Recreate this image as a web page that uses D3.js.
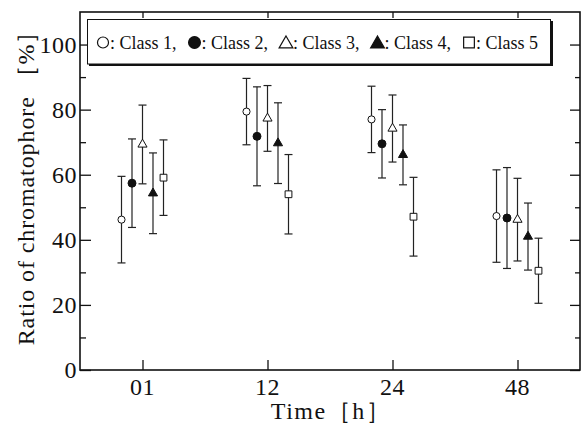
<!DOCTYPE html>
<html>
<head>
<meta charset="utf-8">
<script src="https://cdn.jsdelivr.net/npm/d3@7"></script>
<style>
  html, body { margin: 0; padding: 0; background: #fff; }
  svg { display: block; }
</style>
</head>
<body>
<svg id="chart" width="581" height="438"></svg>
<script>
// Sampling times (h) and class names
const times = ["01", "12", "24", "48"];
const classes = ["Class 1", "Class 2", "Class 3", "Class 4", "Class 5"];

// Mean ratio of chromatophore (%) per class at each time
const class1 = [46.2, 79.4, 77.0, 47.3];
const class2 = [57.4, 71.8, 69.5, 46.7];
const class3 = [69.3, 77.3, 74.2, 46.2];
const class4 = [54.3, 69.7, 66.1, 41.0];
const class5 = [59.1, 54.0, 47.1, 30.5];

// Standard deviations (error bar half-lengths)
const err1 = [13.3, 10.2, 10.2, 14.2];
const err2 = [13.6, 15.2, 10.5, 15.5];
const err3 = [12.1, 10.1, 10.3, 12.7];
const err4 = [12.4, 12.4, 9.2, 10.3];
const err5 = [11.6, 12.2, 12.1, 10.0];

const yMajorTicks = [0, 20, 40, 60, 80, 100];
const yMinorTicks = [10, 30, 50, 70, 90];

const means = [class1, class2, class3, class4, class5];
const errs = [err1, err2, err3, err4, err5];

const FONT = "'Liberation Serif', Tinos, 'Times New Roman', 'DejaVu Serif', serif";

// marker style per class: shape + filled
const markerShape = [d3.symbolCircle, d3.symbolCircle, d3.symbolTriangle, d3.symbolTriangle, d3.symbolSquare];
const markerFilled = [false, true, false, true, false];
const markerSize = [40, 50, 36, 36, 46];
const legendSize = [95, 110, 82, 82, 115];

const svg = d3.select("#chart");
const L = 80, R = 580, T = 12, B = 370;

const x = d3.scalePoint().domain(times).range([L, R]).padding(0.5);
const dx = d3.scalePoint().domain(classes).range([-21, 21]);
const y = d3.scaleLinear().domain([0, 110]).range([B, T]);

const g = svg.append("g");

// frame
g.append("rect")
  .attr("x", L).attr("y", T).attr("width", R - L).attr("height", B - T)
  .attr("fill", "none").attr("stroke", "#111").attr("stroke-width", 1.6);

// ticks on all four sides, pointing inward
const yLeft = d3.axisRight(y).tickValues(yMajorTicks).tickSize(11).tickFormat("");
const yLeftMinor = d3.axisRight(y).tickValues(yMinorTicks).tickSize(6).tickFormat("");
const yRight = d3.axisLeft(y).tickValues(yMajorTicks).tickSize(10).tickFormat("");
const yRightMinor = d3.axisLeft(y).tickValues(yMinorTicks).tickSize(5).tickFormat("");
const xBottom = d3.axisTop(x).tickSize(10).tickFormat("");
const xTop = d3.axisBottom(x).tickSize(6).tickFormat("");

function styleAxis(sel) {
  sel.select(".domain").remove();
  sel.selectAll("line").attr("stroke", "#111").attr("stroke-width", 1.3);
}
g.append("g").attr("transform", `translate(${L},0)`).call(yLeft).call(styleAxis);
g.append("g").attr("transform", `translate(${L},0)`).call(yLeftMinor).call(styleAxis);
g.append("g").attr("transform", `translate(${R},0)`).call(yRight).call(styleAxis);
g.append("g").attr("transform", `translate(${R},0)`).call(yRightMinor).call(styleAxis);
g.append("g").attr("transform", `translate(0,${B})`).call(xBottom).call(styleAxis);
g.append("g").attr("transform", `translate(0,${T})`).call(xTop).call(styleAxis);

// tick labels
g.selectAll(".ylab").data(yMajorTicks).join("text")
  .attr("font-family", FONT).attr("fill", "#111")
  .attr("x", L - 3).attr("y", d => y(d)).attr("dy", "0.34em")
  .attr("text-anchor", "end").attr("font-size", 24).attr("letter-spacing", 0.5).text(d => d);

g.selectAll(".xlab").data(times).join("text")
  .attr("font-family", FONT).attr("fill", "#111")
  .attr("x", d => x(d)).attr("y", 395)
  .attr("text-anchor", "middle").attr("font-size", 24).attr("letter-spacing", 0.5).text(d => d);

// axis titles
svg.append("text")
  .attr("font-family", FONT).attr("fill", "#111")
  .attr("transform", `translate(34,182) rotate(-90)`)
  .attr("text-anchor", "middle").attr("font-size", 24).attr("letter-spacing", 0.9)
  .text("Ratio of chromatophore ［%］");
svg.append("text")
  .attr("font-family", FONT).attr("fill", "#111")
  .attr("x", 331).attr("y", 419)
  .attr("text-anchor", "middle").attr("font-size", 24).attr("letter-spacing", 1.5)
  .text("Time［h］");

// error bars and markers
const points = [];
classes.forEach((c, ci) => {
  times.forEach((t, ti) => {
    points.push({ c, ci, t, m: means[ci][ti], e: errs[ci][ti] });
  });
});

const pg = g.append("g");
const bars = pg.selectAll(".bar").data(points).join("g");
bars.append("line")
  .attr("x1", d => x(d.t) + dx(d.c)).attr("x2", d => x(d.t) + dx(d.c))
  .attr("y1", d => y(d.m + d.e)).attr("y2", d => y(d.m - d.e))
  .attr("stroke", "#222").attr("stroke-width", 1.2);
[1, -1].forEach(s => {
  bars.append("line")
    .attr("x1", d => x(d.t) + dx(d.c) - 4).attr("x2", d => x(d.t) + dx(d.c) + 4)
    .attr("y1", d => y(d.m + s * d.e)).attr("y2", d => y(d.m + s * d.e))
    .attr("stroke", "#222").attr("stroke-width", 1.2);
});

pg.selectAll(".mk").data(points).join("path")
  .attr("transform", d => `translate(${x(d.t) + dx(d.c)},${y(d.m)})`)
  .attr("d", d => d3.symbol().type(markerShape[d.ci]).size(markerSize[d.ci])())
  .attr("fill", d => markerFilled[d.ci] ? "#111" : "#fff")
  .attr("stroke", "#111").attr("stroke-width", 1);

// legend
const lg = svg.append("g");
lg.append("rect").attr("x", 89).attr("y", 21).attr("width", 464).attr("height", 45).attr("fill", "#111");
lg.append("rect").attr("x", 87.5).attr("y", 19.5).attr("width", 463).attr("height", 44.5)
  .attr("fill", "#fff").attr("stroke", "#111").attr("stroke-width", 1);

const legendX = d3.scalePoint().domain(classes).range([103, 469]);
classes.forEach((c, ci) => {
  const lx = legendX(c);
  lg.append("path")
    .attr("transform", `translate(${lx},${ci >= 2 && ci <= 3 ? 44 : 42.5})`)
    .attr("d", d3.symbol().type(markerShape[ci]).size(legendSize[ci])())
    .attr("fill", markerFilled[ci] ? "#111" : "#fff")
    .attr("stroke", "#111").attr("stroke-width", 1.2);
  lg.append("text")
    .attr("font-family", FONT).attr("fill", "#111")
    .attr("x", lx + 7).attr("y", 48.5).attr("font-size", 18)
    .text(": " + c + (ci < classes.length - 1 ? "," : ""));
});
</script>
</body>
</html>
